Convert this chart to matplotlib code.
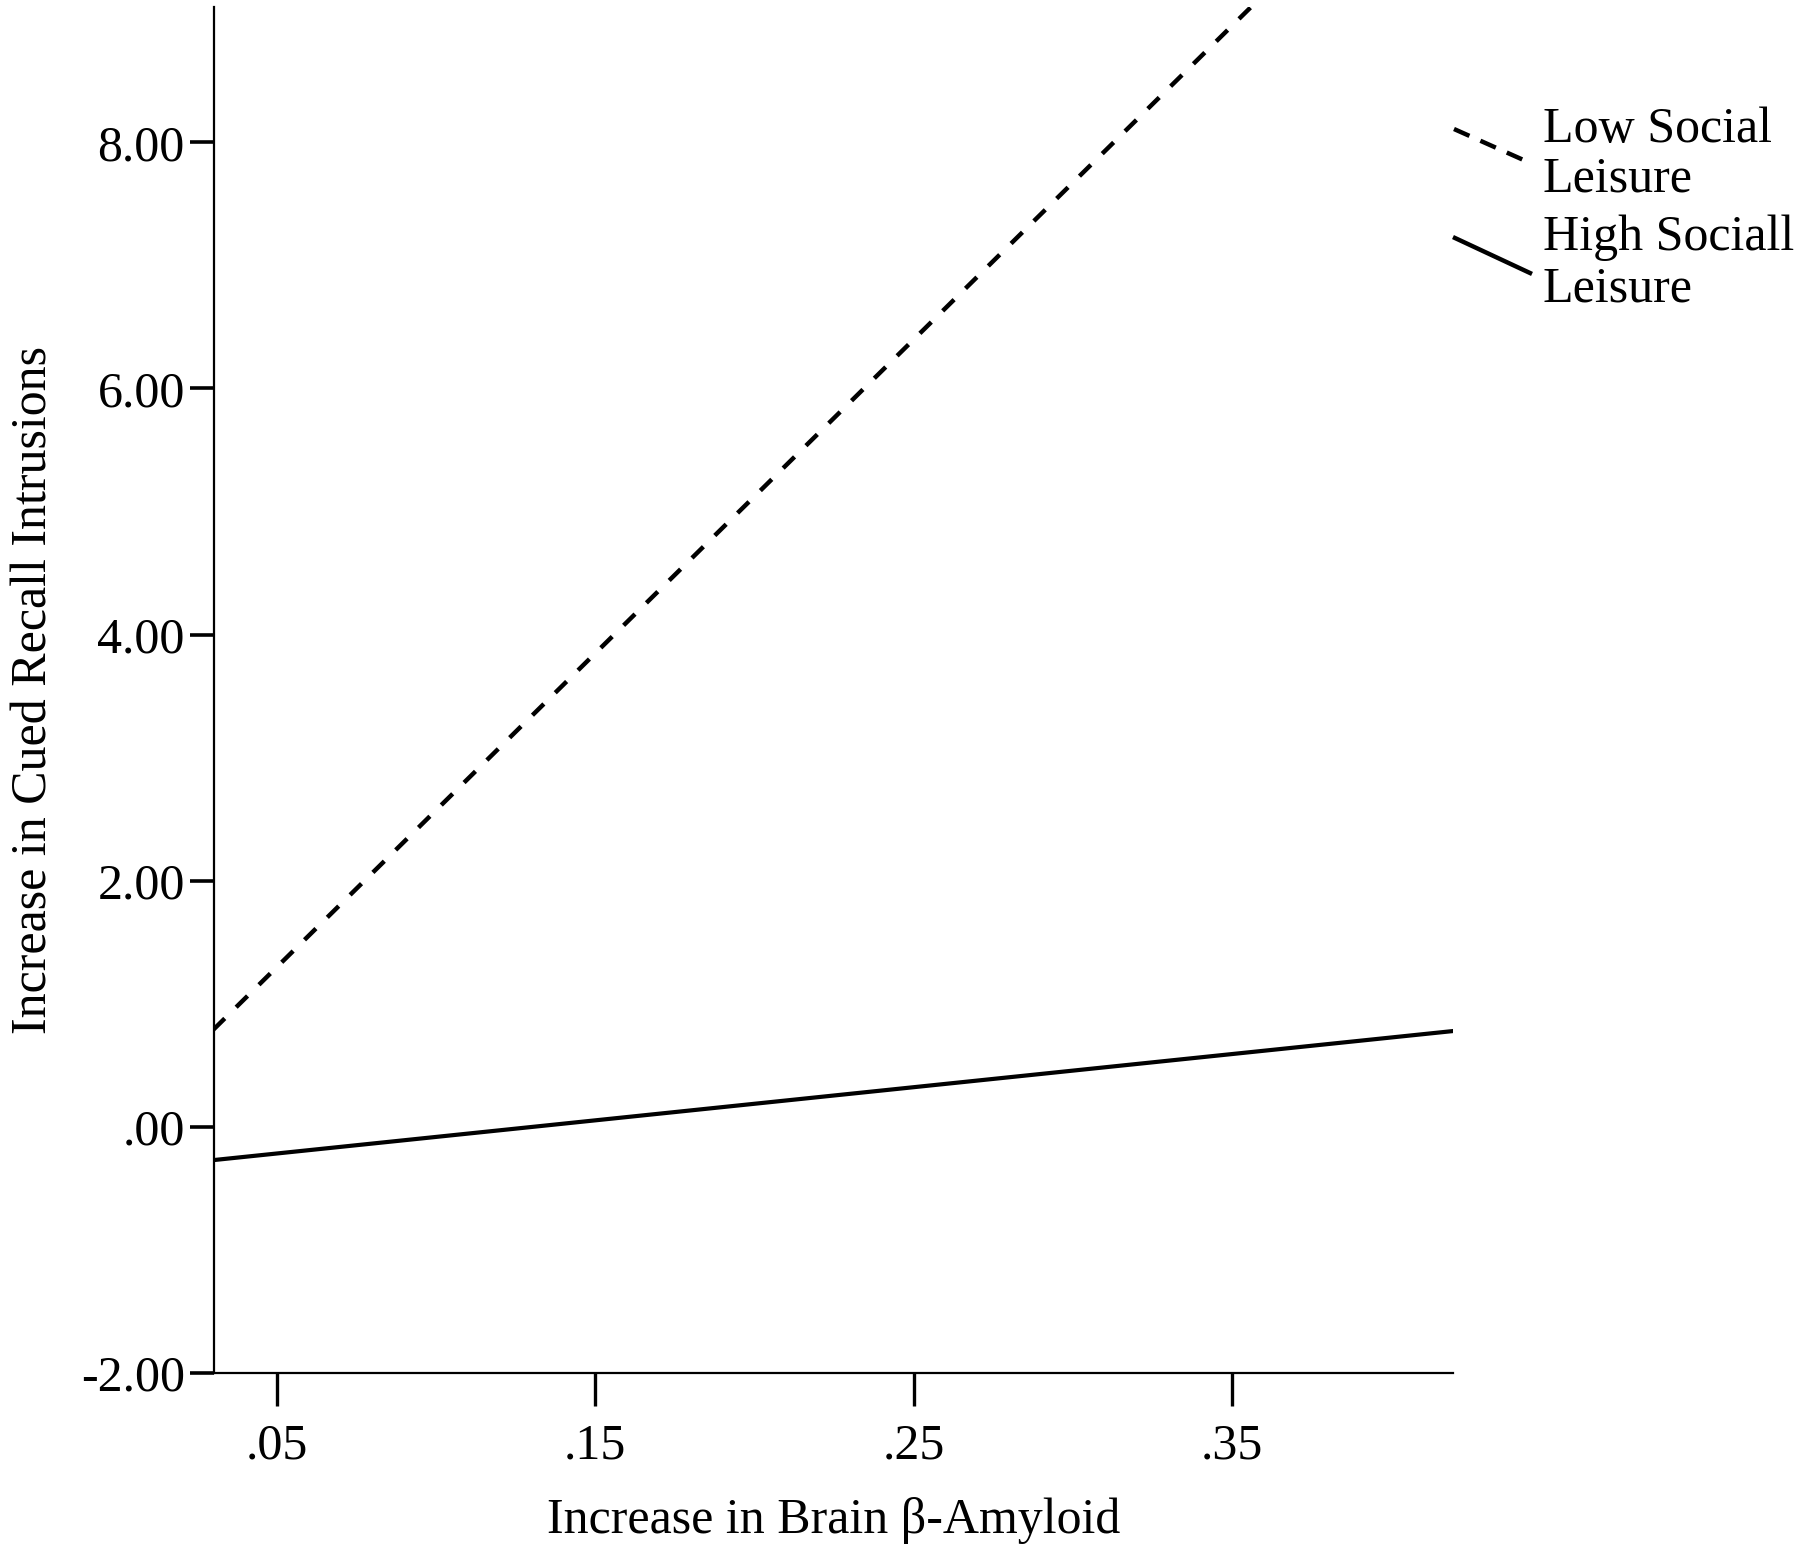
import matplotlib
matplotlib.use("Agg")
import matplotlib.pyplot as plt
from matplotlib.lines import Line2D

# ---------------------------------------------------------------------------
# Data (simple slopes)
# ---------------------------------------------------------------------------
amyloid = [0.03, 0.42]
low_social = [0.79, 10.73]     # dashed, runs off the top of the plot
high_social = [-0.27, 0.78]    # solid

x_ticks = [0.05, 0.15, 0.25, 0.35]
x_tick_labels = [".05", ".15", ".25", ".35"]
y_ticks = [-2, 0, 2, 4, 6, 8]
y_tick_labels = ["-2.00", ".00", "2.00", "4.00", "6.00", "8.00"]

legend_labels = ["Low Social\nLeisure", "High Sociall\nLeisure"]

W, H = 1800, 1556
plt.rcParams["font.family"] = ["Liberation Serif", "DejaVu Serif"]

fig = plt.figure(figsize=(W / 100, H / 100), dpi=100)
ax = fig.add_axes([214 / W, 1 - 1373 / H, (1453 - 214) / W, (1373 - 7) / H])

ax.plot(amyloid, low_social, color="black", lw=3.2, dashes=(3.6, 3.6))
ax.plot(amyloid, high_social, color="black", lw=3.0)

ax.set_xlim(0.0302, 0.4195)
ax.set_ylim(-2, 9.1)

ax.set_xticks(x_ticks, x_tick_labels)
ax.set_yticks(y_ticks, y_tick_labels)
ax.tick_params(axis="both", labelsize=36, direction="out", color="black")
ax.tick_params(axis="x", length=24, width=2.4, pad=12)
ax.tick_params(axis="y", length=17, width=2.6, pad=4)

for side in ("top", "right"):
    ax.spines[side].set_visible(False)
for side in ("left", "bottom"):
    ax.spines[side].set_linewidth(1.6)

ax.set_xlabel("Increase in Brain β-Amyloid", fontsize=36)
ax.xaxis.set_label_coords(0.5, -0.091)
ax.set_ylabel("Increase in Cued Recall Intrusions", fontsize=36, va="center")
ax.yaxis.set_label_coords(-0.145, 0.5)

# ── legend drawn as in the original (slanted line samples) ─────────────────
def fx(px):
    return px / W


def fy(py):
    return 1 - py / H


fig.add_artist(Line2D([fx(1454), fx(1528)], [fy(129), fy(162)], color="black",
                      lw=3.2, dashes=(3.8, 2.7), transform=fig.transFigure))
fig.add_artist(Line2D([fx(1455), fx(1530)], [fy(238), fy(273)], color="black",
                      lw=3.2, transform=fig.transFigure))

baselines = [(142, 192), (250, 302)]
for label, rows in zip(legend_labels, baselines):
    for line, base in zip(label.split("\n"), rows):
        fig.text(fx(1543), fy(base), line, fontsize=36, va="baseline", ha="left")

fig.savefig("out.png", dpi=100)
